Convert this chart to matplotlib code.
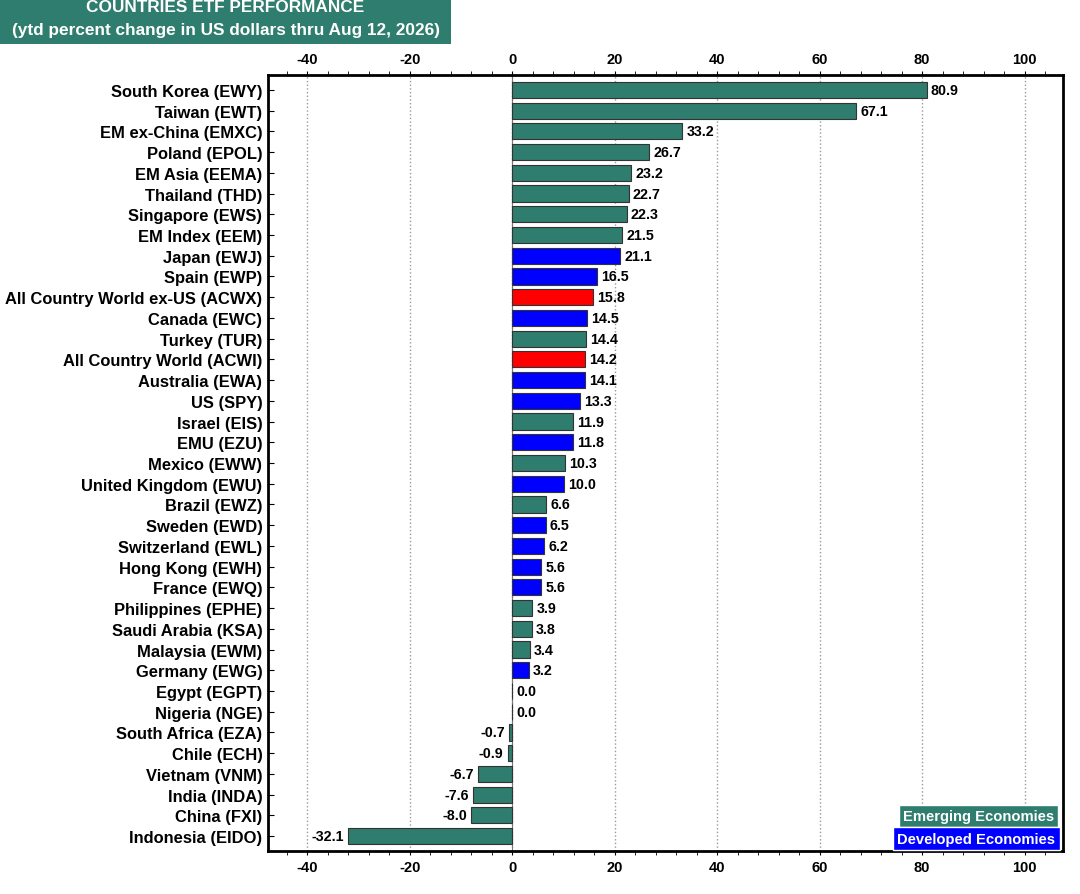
import matplotlib
matplotlib.use('Agg')
import matplotlib.pyplot as plt
from matplotlib.ticker import MultipleLocator
from matplotlib.patches import Rectangle

plt.rcParams['font.family'] = ['Liberation Sans', 'DejaVu Sans']
plt.rcParams['font.weight'] = 'bold'
plt.rcParams['axes.unicode_minus'] = False

# data, top to bottom
labels = ['South Korea (EWY)', 'Taiwan (EWT)', 'EM ex-China (EMXC)', 'Poland (EPOL)',
          'EM Asia (EEMA)', 'Thailand (THD)', 'Singapore (EWS)', 'EM Index (EEM)',
          'Japan (EWJ)', 'Spain (EWP)', 'All Country World ex-US (ACWX)', 'Canada (EWC)',
          'Turkey (TUR)', 'All Country World (ACWI)', 'Australia (EWA)', 'US (SPY)',
          'Israel (EIS)', 'EMU (EZU)', 'Mexico (EWW)', 'United Kingdom (EWU)',
          'Brazil (EWZ)', 'Sweden (EWD)', 'Switzerland (EWL)', 'Hong Kong (EWH)',
          'France (EWQ)', 'Philippines (EPHE)', 'Saudi Arabia (KSA)', 'Malaysia (EWM)',
          'Germany (EWG)', 'Egypt (EGPT)', 'Nigeria (NGE)', 'South Africa (EZA)',
          'Chile (ECH)', 'Vietnam (VNM)', 'India (INDA)', 'China (FXI)', 'Indonesia (EIDO)']
values = [80.9, 67.1, 33.2, 26.7, 23.2, 22.7, 22.3, 21.5, 21.1, 16.5, 15.8, 14.5,
          14.4, 14.2, 14.1, 13.3, 11.9, 11.8, 10.3, 10.0, 6.6, 6.5, 6.2, 5.6, 5.6,
          3.9, 3.8, 3.4, 3.2, 0.0, 0.0, -0.7, -0.9, -6.7, -7.6, -8.0, -32.1]
groups = ['E', 'E', 'E', 'E', 'E', 'E', 'E', 'E', 'D', 'D', 'W', 'D', 'E', 'W', 'D', 'D',
          'E', 'D', 'E', 'D', 'E', 'D', 'D', 'D', 'D', 'E', 'E', 'E', 'D', 'E', 'E', 'E',
          'E', 'E', 'E', 'E', 'E']

teal = '#2E7D6E'
colmap = {'E': teal, 'D': '#0000FF', 'W': '#FF0000'}
colors = [colmap[g] for g in groups]

fig = plt.figure(figsize=(10.8, 8.95), dpi=100)
ax = fig.add_axes([0.2481, 0.048, 0.7362, 0.8671])

ypos = list(range(len(labels)))
ax.barh(ypos, values, height=0.78, color=colors, edgecolor='#333333', linewidth=0.8, zorder=3)

for y, v in zip(ypos, values):
    if v >= 0:
        ax.text(v + 0.8, y, f'{v:.1f}', va='center', ha='left', fontsize=10.3, fontweight='bold')
    else:
        ax.text(v - 0.8, y, f'{v:.1f}', va='center', ha='right', fontsize=10.3, fontweight='bold')

ax.set_ylim(len(labels) - 1 + 0.72, -0.72)
ax.set_xlim(-47.7, 107.5)
ax.set_yticks(ypos)
ax.set_yticklabels(labels, fontsize=11.9, fontweight='bold')
ax.xaxis.set_major_locator(MultipleLocator(20))
ax.xaxis.set_minor_locator(MultipleLocator(4))
ax.tick_params(axis='x', which='both', top=True, labeltop=True, labelsize=10.5, direction='out')
ax.tick_params(axis='x', which='major', length=3)
ax.tick_params(axis='x', which='minor', length=3)
ax.tick_params(axis='y', direction='in', length=4, pad=4)
for lab in ax.get_xticklabels():
    lab.set_fontweight('bold')

ax.grid(axis='x', which='major', linestyle=':', color='#999999', linewidth=1, zorder=0)
ax.axvline(0, color='#777777', linewidth=0.8, zorder=2)
for s in ax.spines.values():
    s.set_linewidth(2)

# title box
fig.patches.append(Rectangle((0, 1 - 45 / 895), 451 / 1080, 45 / 895, transform=fig.transFigure,
                             facecolor=teal, edgecolor='none'))
fig.text(225 / 1080, 1 - 8 / 895, 'COUNTRIES ETF PERFORMANCE', ha='center', va='center',
         color='white', fontsize=12.4, fontweight='bold')
fig.text(226 / 1080, 1 - 31 / 895, '(ytd percent change in US dollars thru Aug 12, 2026)',
         ha='center', va='center', color='white', fontsize=12.4, fontweight='bold')

# legend boxes
ax.text(0.9885, 0.0451, 'Emerging Economies', transform=ax.transAxes, ha='right', va='center',
        color='white', fontsize=10.6, fontweight='bold', zorder=5,
        bbox=dict(boxstyle='square,pad=0.28', facecolor=teal, edgecolor='white', linewidth=1))
ax.text(0.9905, 0.0161, 'Developed Economies', transform=ax.transAxes, ha='right', va='center',
        color='white', fontsize=10.6, fontweight='bold', zorder=5,
        bbox=dict(boxstyle='square,pad=0.28', facecolor='#0000FF', edgecolor='white', linewidth=1))

plt.savefig('out.png', dpi=100)
plt.close()
